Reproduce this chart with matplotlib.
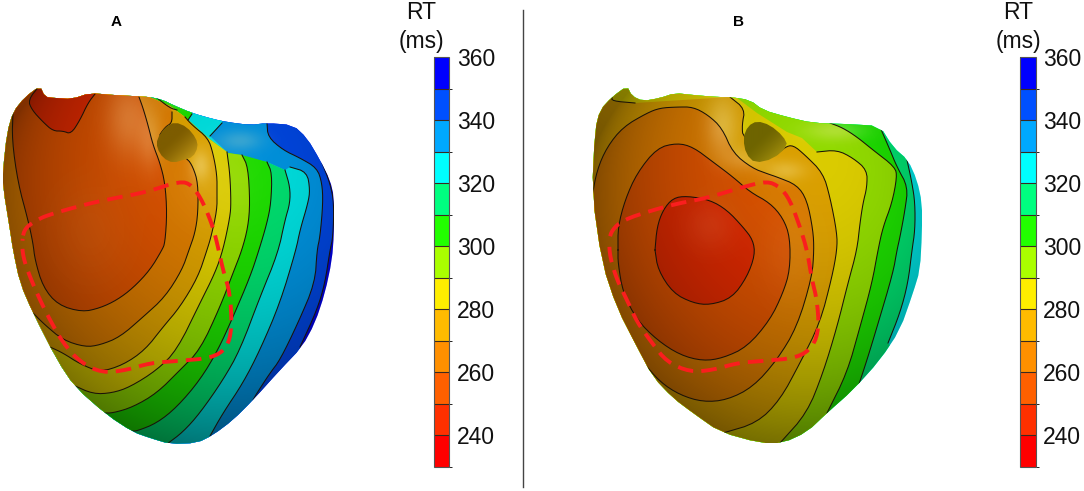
import numpy as np
import matplotlib
matplotlib.use("Agg")
import matplotlib.pyplot as plt
from matplotlib.cm import ScalarMappable
from matplotlib.colors import BoundaryNorm, ListedColormap
from matplotlib.patches import Polygon

plt.rcParams["font.family"] = ["Liberation Sans", "DejaVu Sans"]

# colour scale of the bars (ms), lowest band first
rt_levels = list(range(230, 370, 10))
rt_ticks = [240, 260, 280, 300, 320, 340, 360]
rt_colors = ["#ff0000", "#ff3000", "#ff6000", "#ff9000", "#ffbb00", "#ffee00", "#aaff00",
             "#22ff00", "#00ff80", "#00ffff", "#00a8ff", "#0050ff", "#0000ff"]

# heart A, outline read in image pixels
a_outline = [(40, 86), (45, 97), (55, 98), (72, 99), (90, 93), (113, 95), (132, 96), (150, 97), (163, 100),
             (173, 105), (192, 113), (213, 119), (227, 122), (250, 125), (267, 123), (293, 125), (307, 138), (320, 160),
             (330, 180), (334, 197), (334, 233), (332, 260), (325, 293), (315, 323), (302, 347), (280, 370),
             (253, 400), (233, 420), (213, 435), (197, 443), (170, 444), (150, 438), (133, 432), (107, 415),
             (75, 387), (57, 360), (33, 313), (20, 283), (13, 250), (10, 230), (3, 187), (3, 170), (7, 133),
             (13, 112), (25, 97)]

# heart A, isochrones: the line, then the way round outside the heart
a_250 = [(40, 85), (28, 100), (32, 110), (43, 122), (53, 131), (63, 131), (71, 134), (80, 120), (88, 103), (95, 94)]
a_250_out = [(95, 80), (40, 75)]
a_260 = [(139, 97), (143, 108), (148, 125), (153, 145), (160, 163), (165, 183), (167, 213), (165, 243), (162, 250),
         (150, 270), (133, 288), (117, 300), (100, 308), (82, 312), (58, 305), (43, 287), (35, 260), (33, 243), (28, 220),
         (18, 183), (12, 140), (13, 112)]
a_260_out = [(0, 112), (0, 60), (139, 60)]
a_270 = [(172, 112), (172, 123), (165, 127), (157, 139), (187, 158), (193, 167), (198, 183), (198, 213), (195, 233),
         (189, 250), (182, 270), (165, 297), (143, 317), (120, 337), (100, 345), (85, 347), (63, 340), (45, 325), (33, 313)]
a_270_out = [(0, 320), (0, 60), (147, 60), (147, 96), (170, 106)]
a_280 = [(185, 117), (192, 125), (208, 138), (213, 153), (217, 175), (217, 193), (217, 210), (211, 237), (207, 250),
         (198, 277), (180, 307), (163, 327), (145, 350), (123, 365), (100, 372), (80, 364), (63, 353), (50, 347)]
a_280_out = [(0, 360), (0, 60), (147, 60), (147, 96), (170, 106)]
a_290 = [(227, 152), (230, 175), (231, 203), (230, 217), (223, 250), (215, 273), (200, 303), (177, 350), (157, 370),
         (130, 387), (112, 393), (93, 394), (73, 385)]
a_290_out = [(40, 420), (0, 420), (0, 60), (147, 60), (147, 96), (170, 106), (185, 117), (208, 138)]
a_300 = [(242, 155), (248, 167), (250, 203), (248, 227), (242, 250), (233, 273), (220, 307), (200, 350), (180, 370),
         (157, 393), (133, 407), (113, 413), (103, 413)]
a_300_out = [(80, 450), (0, 450), (0, 60), (147, 60), (147, 96), (170, 106), (185, 117), (208, 138), (228, 153)]
a_310 = [(267, 162), (272, 173), (271, 203), (267, 223), (259, 250), (250, 277), (233, 317), (218, 350), (200, 380),
         (177, 407), (157, 423), (137, 431), (132, 431)]
a_310_out = [(120, 460), (0, 460), (0, 60), (192, 60), (192, 114), (188, 120), (208, 138), (228, 153), (242, 155)]
a_320 = [(285, 170), (290, 187), (290, 203), (285, 220), (278, 253), (260, 297), (240, 350), (223, 380), (200, 413),
         (183, 432), (167, 444)]
a_320_out = [(165, 465), (0, 465), (0, 60), (192, 60), (192, 114), (188, 120), (208, 138), (228, 153), (267, 162)]
a_330 = [(290, 167), (307, 172), (310, 190), (308, 203), (300, 230), (296, 250), (280, 303), (260, 350), (243, 383),
         (223, 413), (210, 436)]
a_330_out = [(215, 465), (0, 465), (0, 60), (222, 60), (222, 123), (210, 136), (228, 153), (267, 162), (285, 170)]
a_340 = [(267, 123), (268, 137), (283, 150), (300, 158), (317, 168), (322, 183), (323, 203), (320, 237), (317, 250),
         (315, 283), (298, 323), (280, 360), (270, 373), (257, 393), (253, 400)]
a_340_out = [(265, 425), (200, 470), (0, 470), (0, 60), (267, 60)]
a_350 = [(322, 163), (330, 183), (334, 203), (333, 237), (330, 250), (325, 283), (317, 310), (300, 347)]
a_350_out = [(320, 370), (200, 470), (0, 470), (0, 60), (345, 60), (345, 150)]
a_short_lines = [[(192, 114), (188, 120)], [(222, 123), (210, 136)], [(157, 98), (170, 108), (177, 110)]]
a_dimple = [(157, 139), (165, 127), (175, 122), (187, 127), (196, 138), (198, 147), (193, 157), (183, 160), (173, 163),
            (163, 158), (157, 148)]
a_dashes = [(22, 240), (25, 228), (37, 220), (48, 215), (83, 205), (110, 199), (147, 192), (180, 181), (192, 185),
            (203, 202), (213, 227), (218, 247), (223, 270), (230, 293), (232, 328), (227, 348), (212, 358), (177, 361),
            (150, 363), (127, 370), (102, 373), (80, 362), (63, 343), (50, 320), (40, 300), (30, 277), (23, 257)]

# heart B
b_outline = [(627, 86), (632, 96), (643, 101), (660, 98), (675, 93), (693, 95), (717, 97), (730, 97), (750, 100),
             (763, 110), (787, 117), (813, 123), (847, 124), (880, 126), (893, 147), (908, 160), (917, 180), (922, 203),
             (922, 233), (920, 270), (913, 293), (900, 330), (880, 360), (853, 390), (827, 413), (807, 432), (783, 443),
             (760, 443), (720, 432), (693, 413), (673, 398), (653, 377), (637, 347), (617, 308), (602, 263), (592, 193),
             (595, 130), (600, 110), (612, 97)]

b_250 = [(655, 250), (658, 270), (673, 293), (693, 303), (710, 305), (732, 298), (747, 277), (755, 255), (753, 240),
         (743, 227), (727, 210), (710, 200), (687, 196), (673, 198), (663, 210), (657, 227), (655, 250)]
b_260 = [(618, 250), (618, 227), (625, 200), (637, 173), (657, 148), (677, 143), (693, 147), (713, 162), (733, 177),
         (750, 192), (770, 203), (783, 218), (790, 237), (790, 270), (783, 293), (770, 320), (747, 347), (723, 358),
         (703, 361), (680, 355), (657, 340), (637, 320), (623, 293), (618, 263), (618, 250)]
b_270 = [(592, 197), (597, 170), (607, 147), (623, 127), (647, 113), (660, 108), (677, 107), (693, 107), (708, 115),
         (722, 128), (733, 153), (752, 168), (768, 174), (777, 177), (797, 185), (807, 200), (813, 230), (814, 250),
         (812, 277), (797, 327), (777, 360), (753, 387), (727, 400), (703, 402), (680, 395), (660, 382), (643, 362)]
b_270_out = [(620, 380), (570, 300), (570, 197)]
b_280 = [(612, 97), (612, 101), (635, 103)]
b_280_right = [(730, 97), (745, 109), (742, 125), (743, 138), (773, 158), (785, 147), (793, 145), (805, 155), (823, 173),
               (830, 197), (837, 233), (837, 250), (832, 277), (820, 323), (800, 363), (780, 400), (757, 423), (723, 433)]
b_280_out = [(700, 460), (570, 460), (570, 97)]
b_290 = [(817, 152), (837, 150), (853, 158), (867, 170), (867, 187), (863, 203), (860, 223), (857, 250), (848, 283),
         (837, 327), (823, 373), (807, 413), (780, 443)]
b_290_out = [(770, 465), (570, 465), (570, 60), (737, 60), (737, 98), (757, 113), (787, 132), (802, 138)]
b_300 = [(830, 123), (843, 128), (857, 137), (873, 150), (895, 167), (897, 177), (892, 203), (883, 227), (878, 250),
         (872, 283), (860, 327), (847, 373), (827, 413)]
b_300_out = [(800, 465), (570, 465), (570, 60), (830, 60)]
b_310 = [(880, 127), (890, 150), (897, 167), (908, 187), (905, 210), (900, 237), (897, 250), (893, 273), (877, 327),
         (867, 360), (857, 390)]
b_310_out = [(880, 410), (800, 470), (570, 470), (570, 60), (880, 60)]
b_320 = [(907, 160), (912, 183), (915, 203), (915, 230), (912, 250), (908, 283), (900, 313), (888, 343)]
b_320_out = [(905, 365), (800, 470), (570, 470), (570, 60), (930, 60), (930, 150)]
b_dimple = [(743, 138), (748, 126), (757, 121), (770, 125), (783, 136), (788, 146), (773, 159), (755, 163), (746, 154)]
b_dashes = [(609, 240), (612, 230), (623, 220), (653, 210), (680, 203), (707, 198), (743, 187), (767, 181), (780, 187),
            (790, 200), (800, 227), (807, 250), (812, 280), (817, 300), (819, 328), (813, 347), (797, 358), (762, 361),
            (737, 363), (713, 370), (690, 372), (667, 362), (652, 343), (637, 322), (627, 300), (617, 280), (610, 257)]

cmap = ListedColormap(rt_colors)
norm = BoundaryNorm(rt_levels, cmap.N)


def band_color(level):
    # colour of the band just below this level
    return cmap(norm(level - 5))


def rounded(pts, closed=False, passes=2):
    # corner cutting so the hand read polylines do not look faceted
    pts = np.array(pts, dtype=float)
    for _ in range(passes):
        nxt = np.roll(pts, -1, axis=0) if closed else pts[1:]
        cur = pts if closed else pts[:-1]
        mid = np.empty((2 * len(cur), 2))
        mid[0::2] = 0.75 * cur + 0.25 * nxt
        mid[1::2] = 0.25 * cur + 0.75 * nxt
        pts = mid if closed else np.vstack([pts[0], mid, pts[-1]])
    return pts


def add_shade(ax, clip, box, centre, radii, lights):
    # lambert light on an ellipsoid, only for the look of the surface
    x0, x1, y0, y1 = box
    xx, yy = np.meshgrid(np.arange(x0, x1), np.arange(y0, y1))
    u = (xx - centre[0]) / radii[0]
    v = (yy - centre[1]) / radii[1]
    nz = np.sqrt(np.clip(1 - u ** 2 - v ** 2, 0.02, 1))
    lam = 0.28 * u - 0.42 * v + 0.85 * nz
    bright = np.clip(0.42 + 0.44 * lam, 0, 1)
    dark = np.zeros(xx.shape + (4,))
    dark[..., 3] = 1 - bright
    im = ax.imshow(dark, extent=(x0, x1, y1, y0), zorder=3, aspect="auto", interpolation="bilinear")
    im.set_clip_path(clip)

    glow = np.zeros(xx.shape)
    for lx, ly, sx, sy, amp in lights:
        glow += amp * np.exp(-((xx - lx) / sx) ** 2 - ((yy - ly) / sy) ** 2)
    shine = np.ones(xx.shape + (4,))
    shine[..., 1] = 0.95
    shine[..., 2] = 0.7
    shine[..., 3] = np.clip(glow, 0, 0.8)
    im = ax.imshow(shine, extent=(x0, x1, y1, y0), zorder=4, aspect="auto", interpolation="bilinear")
    im.set_clip_path(clip)


def add_pit(ax, dimple, dark_rgb, light_rgb):
    # dark at upper left of the hollow, lighter toward lower right
    pts = rounded(dimple, closed=True, passes=1)
    pit = Polygon(pts, closed=True, facecolor="none", edgecolor="none", zorder=6)
    ax.add_patch(pit)
    x0, y0 = pts.min(axis=0)
    x1, y1 = pts.max(axis=0)
    xx, yy = np.meshgrid(np.linspace(0, 1, 40), np.linspace(0, 1, 40))
    t = np.clip((xx + yy - 0.75) / 1.25, 0, 1) ** 1.5
    img = np.zeros(xx.shape + (3,))
    for c in range(3):
        img[..., c] = (dark_rgb[c] + (light_rgb[c] - dark_rgb[c]) * t) / 255
    im = ax.imshow(img, extent=(x0, x1, y1, y0), zorder=6, aspect="auto", interpolation="bilinear")
    im.set_clip_path(pit)


def draw_heart(ax, outline, base_level, regions, lines, dimple, pit_rgb, dashes, box, centre, radii, lights):
    clip = Polygon(rounded(outline, closed=True, passes=1), closed=True, facecolor=band_color(base_level),
                   edgecolor="none", zorder=1)
    ax.add_patch(clip)
    for level, line, out in regions:
        pts = np.vstack([rounded(line), out]) if len(out) else rounded(line)
        patch = Polygon(pts, closed=True, facecolor=band_color(level), edgecolor="none", zorder=2)
        ax.add_patch(patch)
        patch.set_clip_path(clip)
    add_shade(ax, clip, box, centre, radii, lights)
    for line in lines:
        pts = rounded(line)
        ln, = ax.plot(pts[:, 0], pts[:, 1], color="#1a1208", lw=0.75, zorder=5, solid_joinstyle="round")
        ln.set_clip_path(clip)
    add_pit(ax, dimple, pit_rgb[0], pit_rgb[1])
    dash_pts = rounded(dashes, closed=True)
    ax.plot(dash_pts[:, 0], dash_pts[:, 1], color="#fa1e1e", lw=2.8, dashes=(4.0, 2.1), dash_capstyle="butt", zorder=7)


def draw_bar(fig, left):
    cax = fig.add_axes([left / 1084, 1 - 467 / 491, 15.5 / 1084, 410 / 491])
    cbar = fig.colorbar(ScalarMappable(norm=norm, cmap=cmap), cax=cax, ticks=rt_ticks, spacing="proportional", drawedges=True)
    cbar.outline.set_edgecolor("#555555")
    cbar.outline.set_linewidth(0.8)
    cbar.dividers.set_color("#3a2a20")
    cbar.dividers.set_linewidth(0.8)
    cax.tick_params(length=0, labelsize=16.5, pad=5.5, labelcolor="#111111")


fig = plt.figure(figsize=(10.84, 4.91), dpi=100)
ax = fig.add_axes([0, 0, 1, 1])
ax.set_xlim(0, 1084)
ax.set_ylim(491, 0)
ax.axis("off")

a_regions = [(350, a_350, a_350_out), (340, a_340, a_340_out), (330, a_330, a_330_out), (320, a_320, a_320_out),
             (310, a_310, a_310_out), (300, a_300, a_300_out), (290, a_290, a_290_out), (280, a_280, a_280_out),
             (270, a_270, a_270_out), (260, a_260, a_260_out), (250, a_250, a_250_out)]
a_lines = [a_250, a_260, a_270, a_280, a_290, a_300, a_310, a_320, a_330, a_340, a_350] + a_short_lines
a_lights = [(128, 118, 22, 38, 0.26), (150, 140, 12, 30, 0.20), (200, 165, 10, 16, 0.34), (215, 185, 40, 40, 0.08),
            (178, 100, 14, 8, 0.16), (240, 140, 22, 10, 0.20), (90, 230, 40, 50, 0.04)]
draw_heart(ax, a_outline, 360, a_regions, a_lines, a_dimple, ((125, 92, 0), (215, 170, 30)), a_dashes,
           (0, 345, 80, 450), (178, 250), (205, 225), a_lights)

b_regions = [(320, b_320, b_320_out), (310, b_310, b_310_out), (300, b_300, b_300_out), (290, b_290, b_290_out),
             (280, b_280_right, b_280_out + b_280), (270, b_270, b_270_out), (260, b_260, []), (250, b_250, [])]
b_lines = [b_250, b_260, b_270, b_280, b_280_right, b_290, b_300, b_310, b_320]
b_lights = [(722, 125, 16, 30, 0.32), (745, 158, 20, 12, 0.22), (785, 170, 20, 10, 0.28), (835, 130, 30, 10, 0.28),
            (710, 225, 25, 25, 0.08), (790, 250, 30, 50, 0.06)]
draw_heart(ax, b_outline, 330, b_regions, b_lines, b_dimple, ((110, 100, 0), (190, 165, 20)), b_dashes,
           (580, 930, 80, 450), (760, 250), (190, 225), b_lights)

draw_bar(fig, 433.5)
draw_bar(fig, 1020)

for rt_x in [421, 1018]:
    ax.text(rt_x, 12.5, "RT", fontsize=16.5, ha="center", va="center", color="#111111")
    ax.text(rt_x, 41, "(ms)", fontsize=16.5, ha="center", va="center", color="#111111")
ax.text(116, 22, "A", fontsize=11, fontweight="bold", ha="center", va="center")
ax.text(738, 22, "B", fontsize=11, fontweight="bold", ha="center", va="center")
ax.plot([523, 523], [10, 487], color="#444444", lw=1.0)

fig.savefig("out.png", dpi=100)
